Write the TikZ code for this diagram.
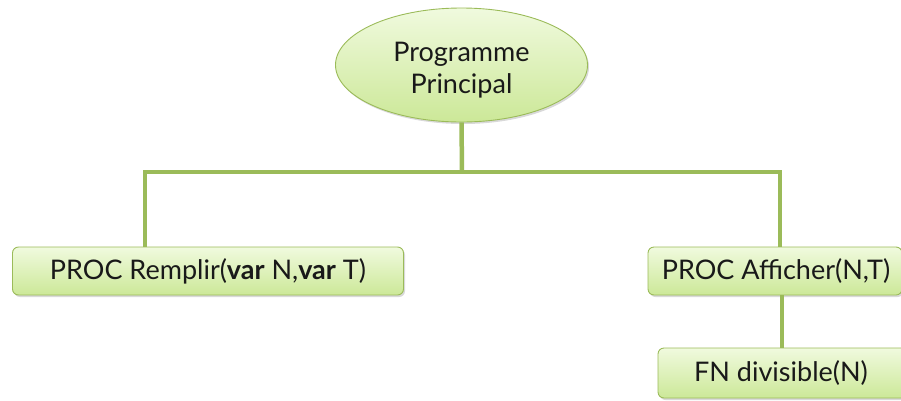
\documentclass[tikz,border=0pt]{standalone}
\usepackage{fontspec}
\setmainfont{Lato}
\usetikzlibrary{shadows,shapes.geometric}
\definecolor{olive}{RGB}{155,187,89}
\definecolor{ltop}{RGB}{240,250,222}
\definecolor{lbot}{RGB}{204,232,152}
\tikzset{
  txt/.style={font=\fontsize{27}{32}\selectfont,text=black!90},
  conn/.style={draw=olive,line width=4.5pt},
  boxnode/.style={draw=olive,line width=0.9pt,rounded corners=6pt,top color=ltop,bottom color=lbot,
    drop shadow={shadow xshift=1.5pt,shadow yshift=-2pt,fill=black!25,opacity=0.6},
    txt,inner sep=0pt},
  ellnode/.style={ellipse,draw=olive,line width=0.9pt,top color=ltop,bottom color=lbot,
    drop shadow={shadow xshift=1.5pt,shadow yshift=-2pt,fill=black!25,opacity=0.6},
    txt,align=center,inner sep=0pt}
}
\begin{document}
\begin{tikzpicture}[x=1pt,y=-1pt]
\useasboundingbox (0,0) rectangle (901,400);
\node[ellnode,minimum width=252pt,minimum height=114pt] (pp) at (461.5,65) {};
\node[txt,align=center] (ppt) at (461.5,70) {Programme\\Principal};
\coordinate (j) at (462,172);
\coordinate (jl) at (145,172);
\coordinate (jr) at (780,172);
\node[boxnode,minimum width=391pt,minimum height=48pt] (rem) at (208,271) {PROC Remplir(\textbf{var} N,\textbf{var} T)};
\node[boxnode,minimum width=254pt,minimum height=48pt] (aff) at (775,271) {};
\node[txt] (afft) at (776,271) {PROC Afficher(N,T)};
\node[boxnode,minimum width=250pt,minimum height=50pt] (fn) at (783,373) {};
\node[txt] (fnt) at (781,373) {FN divisible(N)};
\draw[conn] (pp.south) -- (j);
\draw[conn] (jl |- rem.north) -- (jl) -- (jr) -- (jr |- aff.north);
\draw[conn] (aff.south -| 782,0) -- (fn.north -| 782,0);
\end{tikzpicture}
\end{document}
